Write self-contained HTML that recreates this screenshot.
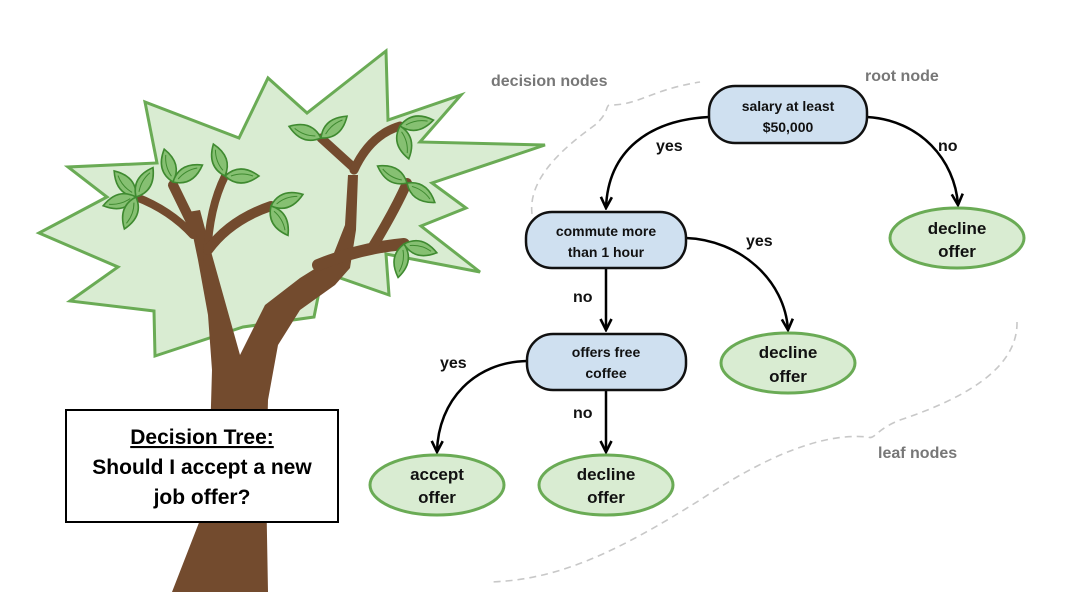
<!DOCTYPE html>
<html><head><meta charset="utf-8"><style>
html,body{margin:0;padding:0;background:#fff;}
svg{display:block;font-family:"Liberation Sans",Arial,sans-serif;}
</style></head><body>
<svg width="1069" height="610" viewBox="0 0 1069 610" xmlns="http://www.w3.org/2000/svg">
<defs>
<marker id="ah" viewBox="0 0 14 14" refX="12" refY="7" markerWidth="14" markerHeight="14" markerUnits="userSpaceOnUse" orient="auto">
<path d="M1,1.5 L12,7 L1,12.5" fill="none" stroke="#000" stroke-width="2.6"/>
</marker>
<g id="lf">
<path d="M0,0 Q15,-14 34,0 Q15,14 0,0 Z" fill="#86c072" stroke="#3f8a30" stroke-width="1.6"/>
<path d="M6,0 Q17,-4 28,0" fill="none" stroke="#3f8a30" stroke-width="1"/>
</g>
</defs>
<polygon points="386,51 388,120 461,95 420,142 545,145 432,183 466,208 421,226 480,272 386,254 389,295 323,272 314,317 243,327 155,356 154,311 70,301 118,267 39,233 107,197 68,167 157,163 145,102 239,138 268,78 307,113" fill="#d9ecd2" stroke="#6aab55" stroke-width="3" stroke-linejoin="miter"/>
<polygon points="172,592 268,592 266,480 268,400 278,345 300,310 335,285 350,268 356,230 358,175 348,175 345,225 332,258 300,278 265,305 240,355 226,305 212,255 200,210 188,212 198,260 208,315 212,370 210,440 200,520" fill="#734b2e"/>
<g fill="none" stroke="#734b2e" stroke-linecap="round">
<path d="M354,168 L321,138" stroke-width="9"/>
<path d="M354,170 Q370,135 400,126" stroke-width="9"/>
<path d="M318,265 Q360,248 404,244" stroke-width="12"/>
<path d="M372,248 Q395,210 407,183" stroke-width="10"/>
<path d="M196,232 L173,185" stroke-width="10"/>
<path d="M193,235 Q170,210 136,197" stroke-width="8"/>
<path d="M207,262 Q208,210 225,176" stroke-width="8"/>
<path d="M208,250 Q230,220 271,206" stroke-width="10"/>
</g>
<g>
<use href="#lf" transform="translate(136,197) rotate(-130)"/>
<use href="#lf" transform="translate(136,197) rotate(-60)"/>
<use href="#lf" transform="translate(136,197) rotate(165)"/>
<use href="#lf" transform="translate(136,197) rotate(110)"/>
<use href="#lf" transform="translate(173,182) rotate(-105)"/>
<use href="#lf" transform="translate(173,182) rotate(-30)"/>
<use href="#lf" transform="translate(225,176) rotate(-110)"/>
<use href="#lf" transform="translate(225,176) rotate(0)"/>
<use href="#lf" transform="translate(271,206) rotate(-20)"/>
<use href="#lf" transform="translate(271,206) rotate(60)"/>
<use href="#lf" transform="translate(321,138) rotate(-160)"/>
<use href="#lf" transform="translate(321,138) rotate(-40)"/>
<use href="#lf" transform="translate(400,126) rotate(-10)"/>
<use href="#lf" transform="translate(400,126) rotate(75)"/>
<use href="#lf" transform="translate(407,183) rotate(-150)"/>
<use href="#lf" transform="translate(407,183) rotate(35)"/>
<use href="#lf" transform="translate(404,244) rotate(100)"/>
<use href="#lf" transform="translate(404,244) rotate(15)"/>
</g>
<rect x="66" y="410" width="272" height="112" fill="#fff" stroke="#000" stroke-width="2"/>
<g font-weight="bold" font-size="21" text-anchor="middle" fill="#000">
<text x="202" y="444" text-decoration="underline">Decision Tree:</text>
<text x="202" y="474">Should I accept a new</text>
<text x="202" y="504">job offer?</text>
</g>
<g fill="none" stroke="#c8c8c8" stroke-width="1.6" stroke-dasharray="7,5">
<path d="M532,214 C528,180 560,150 595,125 C610,112 605,105 610,105 C640,105 650,90 700,82"/>
<path d="M1017,322 C1018,370 960,400 900,420 C875,430 875,440 868,437 C820,432 760,460 700,500 C620,550 560,580 490,582"/>
</g>
<g font-weight="bold" font-size="16" fill="#777">
<text x="491" y="86">decision nodes</text>
<text x="865" y="81">root node</text>
<text x="878" y="458">leaf nodes</text>
</g>
<g fill="none" stroke="#000" stroke-width="2.5" marker-end="url(#ah)">
<path d="M709,117 C650,120 608,150 606,208"/>
<path d="M867,117 C920,120 955,160 958,205"/>
<path d="M686,238 C740,240 785,280 788,330"/>
<path d="M606,268 L606,330"/>
<path d="M527,361 C475,362 438,400 437,452"/>
<path d="M606,390 L606,452"/>
</g>
<g fill="#cfe0f0" stroke="#111" stroke-width="2.5">
<rect x="709" y="86" width="158" height="57" rx="26"/>
<rect x="526" y="212" width="160" height="56" rx="26"/>
<rect x="527" y="334" width="159" height="56" rx="26"/>
</g>
<g font-weight="bold" font-size="14" text-anchor="middle" fill="#111">
<text x="788" y="111">salary at least</text>
<text x="788" y="132">$50,000</text>
<text x="606" y="236">commute more</text>
<text x="606" y="257">than 1 hour</text>
<text x="606" y="357">offers free</text>
<text x="606" y="378">coffee</text>
</g>
<g fill="#d9ecd2" stroke="#6aab55" stroke-width="3">
<ellipse cx="957" cy="238" rx="67" ry="30"/>
<ellipse cx="788" cy="363" rx="67" ry="30"/>
<ellipse cx="437" cy="485" rx="67" ry="30"/>
<ellipse cx="606" cy="485" rx="67" ry="30"/>
</g>
<g font-weight="bold" font-size="17" text-anchor="middle" fill="#111">
<text x="957" y="234">decline</text><text x="957" y="257">offer</text>
<text x="788" y="358">decline</text><text x="788" y="382">offer</text>
<text x="437" y="480">accept</text><text x="437" y="503">offer</text>
<text x="606" y="480">decline</text><text x="606" y="503">offer</text>
</g>
<g font-weight="bold" font-size="16" fill="#111">
<text x="656" y="151">yes</text>
<text x="938" y="151">no</text>
<text x="746" y="246">yes</text>
<text x="573" y="302">no</text>
<text x="440" y="368">yes</text>
<text x="573" y="418">no</text>
</g>
</svg>
</body></html>
